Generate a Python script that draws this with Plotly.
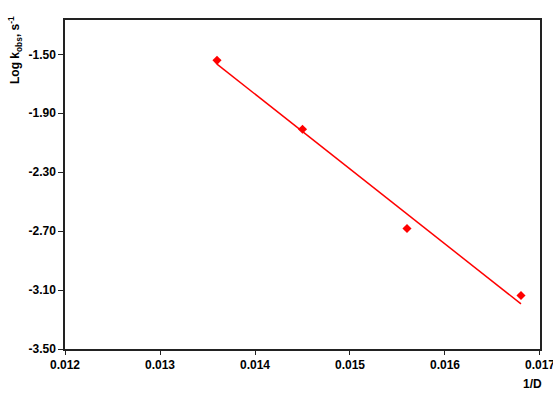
import numpy as np
import plotly.graph_objects as go

inv_d = [0.0136, 0.0145, 0.0156, 0.0168]
log_kobs = [-1.541, -2.008, -2.682, -3.137]
x_ticks = [0.012, 0.013, 0.014, 0.015, 0.016, 0.017]
y_ticks = [-3.50, -3.10, -2.70, -2.30, -1.90, -1.50]

slope, intercept = np.polyfit(inv_d, log_kobs, 1)
fit_x = [min(inv_d), max(inv_d)]
fit_y = [slope * v + intercept for v in fit_x]

fig = go.Figure()
fig.add_trace(go.Scatter(x=fit_x, y=fit_y, mode="lines",
                         line=dict(color="#ff0000", width=1.5), showlegend=False))
fig.add_trace(go.Scatter(x=inv_d, y=log_kobs, mode="markers",
                         marker=dict(symbol="diamond", size=7, color="#ff0000"),
                         showlegend=False))

font = dict(family="Liberation Sans, Arial", size=12, color="#000000")
fig.update_layout(
    width=553, height=394,
    margin=dict(l=65, r=13, t=20, b=45, autoexpand=False),
    paper_bgcolor="white", plot_bgcolor="white",
    font=font,
    xaxis=dict(range=[0.012, 0.0170001], tickvals=x_ticks,
               ticktext=[f"<b>{v:.3f}</b>" for v in x_ticks],
               ticklabeloverflow="allow", automargin=False,
               showgrid=False, zeroline=False, showline=True, mirror=True,
               linecolor="#222222", linewidth=1.5, ticks="outside", ticklen=4,
               tickwidth=1, tickcolor="#222222"),
    yaxis=dict(range=[-3.5, -1.267], tickvals=y_ticks,
               ticktext=[f"<b>{v:.2f}</b>" for v in y_ticks],
               automargin=False,
               showgrid=False, zeroline=False, showline=True, mirror=True,
               linecolor="#222222", linewidth=1.5, ticks="outside", ticklen=5,
               tickwidth=1, tickcolor="#222222"),
    annotations=[
        dict(text="<b>Log k<sub>obs</sub>, s<sup>-1</sup></b>", textangle=-90,
             xref="paper", yref="paper", x=0, y=1, xanchor="center", yanchor="top",
             xshift=-50, yshift=6, showarrow=False,
             font=dict(family="Liberation Sans, Arial", size=12, color="#000000")),
        dict(text="<b>1/D</b>", xref="paper", yref="paper", x=1, y=0,
             xanchor="center", yanchor="middle", xshift=-8, yshift=-35,
             showarrow=False, font=font),
    ],
)

fig.write_html("out.html", config={"displayModeBar": False},
               post_script="document.body.style.margin='0';")
